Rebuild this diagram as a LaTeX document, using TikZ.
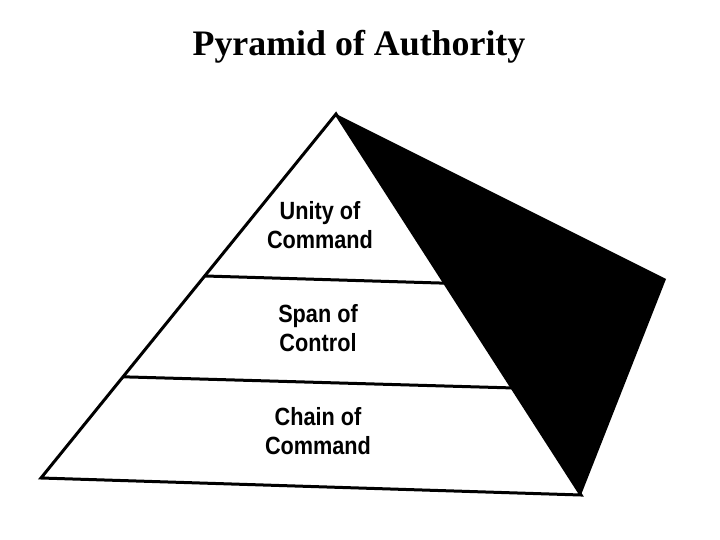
\documentclass[tikz,border=0pt]{standalone}
\usepackage{fontspec}
\setmainfont{Liberation Serif}
\setsansfont{Liberation Sans}
\newfontfamily\levelfont[FakeStretch=0.87]{Liberation Sans}
\usetikzlibrary{calc}
\tikzset{
  level/.style={font=\levelfont\bfseries\fontsize{25}{29}\selectfont, align=center, inner sep=0pt},
  edge/.style={line width=3bp, line join=miter}
}
\begin{document}
\begin{tikzpicture}[x=1bp, y=-1bp]
  \useasboundingbox (0,0) rectangle (720,540);
  % corners of the pyramid
  \coordinate (apex) at (336,114);
  \coordinate (left) at (41,478);
  \coordinate (front) at (581,495);
  \coordinate (back) at (666,279);
  \coordinate (a1) at ($(apex)!0.445!(left)$);
  \coordinate (b1) at ($(apex)!0.444!(front)$);
  \coordinate (a2) at ($(apex)!0.722!(left)$);
  \coordinate (b2) at ($(apex)!0.719!(front)$);
  \fill (apex) -- (back) -- (front) -- cycle;
  \draw[edge] (apex) -- (left) -- (front) -- cycle;
  \draw[edge] (a1) -- (b1);
  \draw[edge] (a2) -- (b2);
  \node[font=\rmfamily\bfseries\fontsize{36}{42}\selectfont] (title) at (359,47) {Pyramid of Authority};
  \node[level] (unity) at (320,225) {Unity of\\Command};
  \node[level] (span) at (318,328) {Span of\\Control};
  \node[level] (chain) at (318,431) {Chain of\\Command};
\end{tikzpicture}
\end{document}
